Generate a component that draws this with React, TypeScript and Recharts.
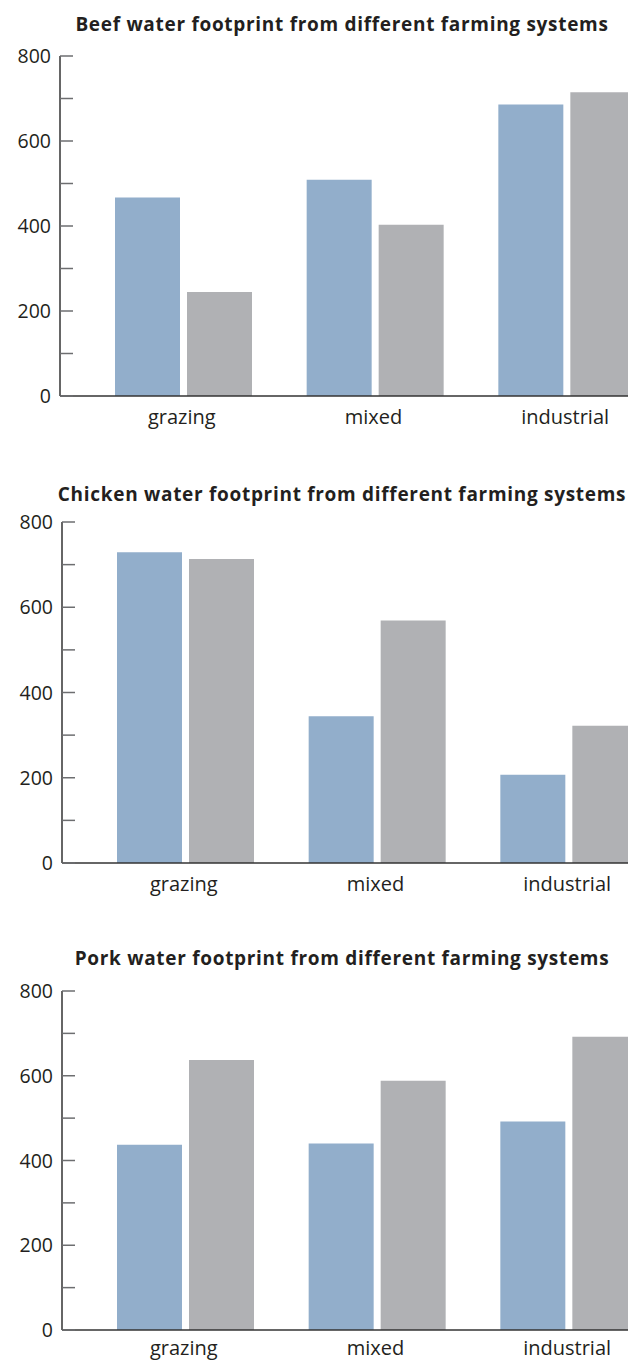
import * as React from 'react';
import { BarChart, Bar, XAxis, YAxis } from 'recharts';

const categories = ['grazing', 'mixed', 'industrial'];

const beefBlue = [467, 509, 686];
const beefGrey = [245, 403, 715];

const chickenBlue = [729, 344, 207];
const chickenGrey = [713, 569, 322];

const porkBlue = [437, 440, 492];
const porkGrey = [637, 588, 692];

const yTicks = [0, 100, 200, 300, 400, 500, 600, 700, 800];

const BLUE = '#92aecb';
const GREY = '#b0b1b4';
const INK = '#231f20';
const FONT = '"Open Sans", "Noto Sans", sans-serif';

const buildRows = (blue: number[], grey: number[]) =>
  categories.map((name, i) => ({ name, blue: blue[i], grey: grey[i] }));

const YTick = (props: any) => {
  const { x, y, payload } = props;
  return (
    <g>
      <line x1={x} x2={x + 13} y1={y} y2={y} stroke="#6d6e70" strokeWidth={1.5} />
      {payload.value % 200 === 0 && (
        <text x={x - 9} y={y} dy="0.36em" textAnchor="end" fontSize={19.5} fontFamily={FONT} fill={INK}>
          {payload.value}
        </text>
      )}
    </g>
  );
};

const XTick = (props: any) => {
  const { x, y, payload } = props;
  return (
    <text x={x - 2} y={y} dy="0.71em" textAnchor="middle" fontSize={20} fontFamily={FONT} fill={INK}>
      {payload.value}
    </text>
  );
};

interface PanelProps {
  title: string;
  blue: number[];
  grey: number[];
  top: number;
  titleTop: number;
  plotTop: number;
  plotHeight: number;
  axisX: number;
  labelGap: number;
}

const Panel: React.FC<PanelProps> = ({
  title,
  blue,
  grey,
  top,
  titleTop,
  plotTop,
  plotHeight,
  axisX,
  labelGap,
}) => {
  const data = buildRows(blue, grey);
  const marginTop = plotTop - top;
  return (
    <div style={{ position: 'absolute', left: 0, top, width: 700 }}>
      <div
        style={{
          position: 'absolute',
          left: 0,
          width: 684,
          top: titleTop - top - 12,
          height: 24,
          lineHeight: '24px',
          textAlign: 'center',
          fontFamily: FONT,
          fontWeight: 700,
          fontSize: 19,
          letterSpacing: 0.7,
          whiteSpace: 'nowrap',
          color: INK,
        }}
      >
        {title}
      </div>
      <BarChart
        width={axisX + 603}
        height={marginTop + plotHeight + 45}
        data={data}
        margin={{ top: marginTop, right: 0, bottom: 5, left: 0 }}
        barSize={65}
        barGap={7}
      >
        <XAxis
          dataKey="name"
          padding={{ left: 28, right: 0 }}
          axisLine={{ stroke: '#333', strokeWidth: 1.5 }}
          tickLine={false}
          tickSize={0}
          tickMargin={labelGap}
          height={40}
          tick={<XTick />}
        />
        <YAxis
          width={axisX}
          domain={[0, 800]}
          ticks={yTicks}
          interval={0}
          axisLine={{ stroke: '#333', strokeWidth: 1.5 }}
          tickLine={false}
          tickSize={0}
          tickMargin={0}
          tick={<YTick />}
        />
        <Bar dataKey="blue" fill={BLUE} isAnimationActive={false} />
        <Bar dataKey="grey" fill={GREY} isAnimationActive={false} />
      </BarChart>
    </div>
  );
};

export default function App() {
  return (
    <div
      style={{
        position: 'absolute',
        left: 0,
        top: 0,
        width: 628,
        height: 1361,
        overflow: 'hidden',
        background: '#fff',
      }}
    >
      <Panel
        title="Beef water footprint from different farming systems"
        blue={beefBlue}
        grey={beefGrey}
        top={0}
        titleTop={24}
        plotTop={56}
        plotHeight={340}
        axisX={60}
        labelGap={14}
      />
      <Panel
        title="Chicken water footprint from different farming systems"
        blue={chickenBlue}
        grey={chickenGrey}
        top={465}
        titleTop={494}
        plotTop={522}
        plotHeight={341}
        axisX={62}
        labelGap={14}
      />
      <Panel
        title="Pork water footprint from different farming systems"
        blue={porkBlue}
        grey={porkGrey}
        top={930}
        titleTop={958}
        plotTop={991}
        plotHeight={339}
        axisX={62}
        labelGap={11}
      />
    </div>
  );
}
